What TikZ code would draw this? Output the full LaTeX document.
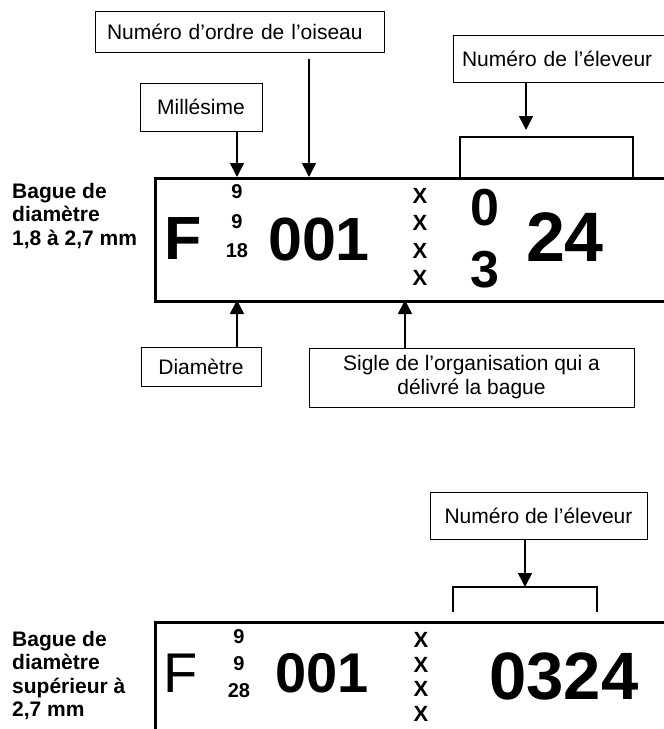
\documentclass[tikz,border=0pt]{standalone}
\usepackage{fontspec}
\setmainfont{Liberation Sans}
\usetikzlibrary{arrows.meta,positioning}

\begin{document}
\begin{tikzpicture}[x=1pt, y=-1pt,
	tag/.style={draw, line width=1pt, inner sep=0pt, align=center, font=\fontsize{21}{24}\selectfont},
	ring/.style={draw, line width=2.6pt, inner sep=0pt, anchor=north west},
	post/.style={-{Triangle[width=14pt,length=14pt]}, line width=1.6pt},
	brack/.style={line width=1.2pt},
	side/.style={anchor=north west, inner sep=0pt, align=left, font=\fontsize{21}{23.5}\selectfont\bfseries},
	big/.style={inner sep=0pt, font=\fontsize{#1}{#1}\selectfont\bfseries},
	col/.style 2 args={inner sep=0pt, align=center, font=\fontsize{#1}{#2}\selectfont\bfseries}]

	\useasboundingbox (0,0) rectangle (664,729);
	\clip (0,0) rectangle (664,729);

	% ring of 1,8 to 2,7 mm
	\node [ring, minimum width=540, minimum height=123] (B1) at (154,177) {};
	\node [side] (L1) at (12,183) {Bague de\\diamètre\\1,8 à 2,7 mm};
	\node [big=61] (F1) at (183,239) {F};
	\node [col={20}{29.5}] (Y1) at (237,221.5) {9\\9\\18};
	\node [big=61] (N1) at (319,239) {001};
	\node [col={22}{27.3}] (X1) at (420,237) {X\\X\\X\\X};
	\node [col={52}{62}] (Z1) at (485,239) {0\\3};
	\node [big=70] (E1) at (565,237) {24};

	\node [tag, text width=265, inner xsep=12, align=left, minimum height=41] (OO) at (239.5,31.5) {Numéro d’ordre de l’oiseau};
	\node [tag, minimum width=122, minimum height=48] (MI) at (201,107) {Millésime};
	\node [tag, text width=212, inner xsep=9, align=left, minimum height=47] (NE) at (568,58.5) {Numéro de l’éleveur};
	\node [tag, minimum width=120, minimum height=39] (DI) at (201,366.5) {Diamètre};
	\node [tag, minimum width=325, minimum height=59] (SO) at (471.5,377.5)
		{Sigle de l’organisation qui a\\délivré la bague};

	\coordinate (m1) at (237,177);
	\coordinate (o1) at (309,177);
	\coordinate (e1) at (526,130);
	\coordinate (d1) at (237,300);
	\coordinate (s1) at (405,300);

	\draw[post] (MI.south -| m1) -- (m1);
	\draw[post] ([yshift=-6pt]OO.south -| o1) -- (o1);
	\draw[post] (NE.south -| e1) -- (e1);
	\draw[post] (DI.north -| d1) -- (d1);
	\draw[post] (SO.north -| s1) -- (s1);
	\draw[brack] (460,177) -- (460,137) -- (633,137) -- (633,177);

	% ring over 2,7 mm
	\node [ring, minimum width=540, minimum height=200] (B2) at (154,621) {};
	\node [side] (L2) at (12,631) {Bague de\\diamètre\\supérieur à\\2,7 mm};
	\node [inner sep=0pt, font=\fontsize{56}{56}\selectfont] (F2) at (181,673) {F};
	\node [col={20}{27}] (Y2) at (239,664) {9\\9\\28};
	\node [big=56] (N2) at (322,673) {001};
	\node [col={22}{24.7}] (X2) at (421,677) {X\\X\\X\\X};
	\node [big=67] (E2) at (564,676) {0324};

	\node [tag, minimum width=217, minimum height=47] (NE2) at (538.5,515.5) {Numéro de l’éleveur};
	\coordinate (e2) at (525,587);
	\draw[post] (NE2.south -| e2) -- (e2);
	\draw[brack] (453,612) -- (453,587) -- (597,587) -- (597,612);

\end{tikzpicture}
\end{document}
